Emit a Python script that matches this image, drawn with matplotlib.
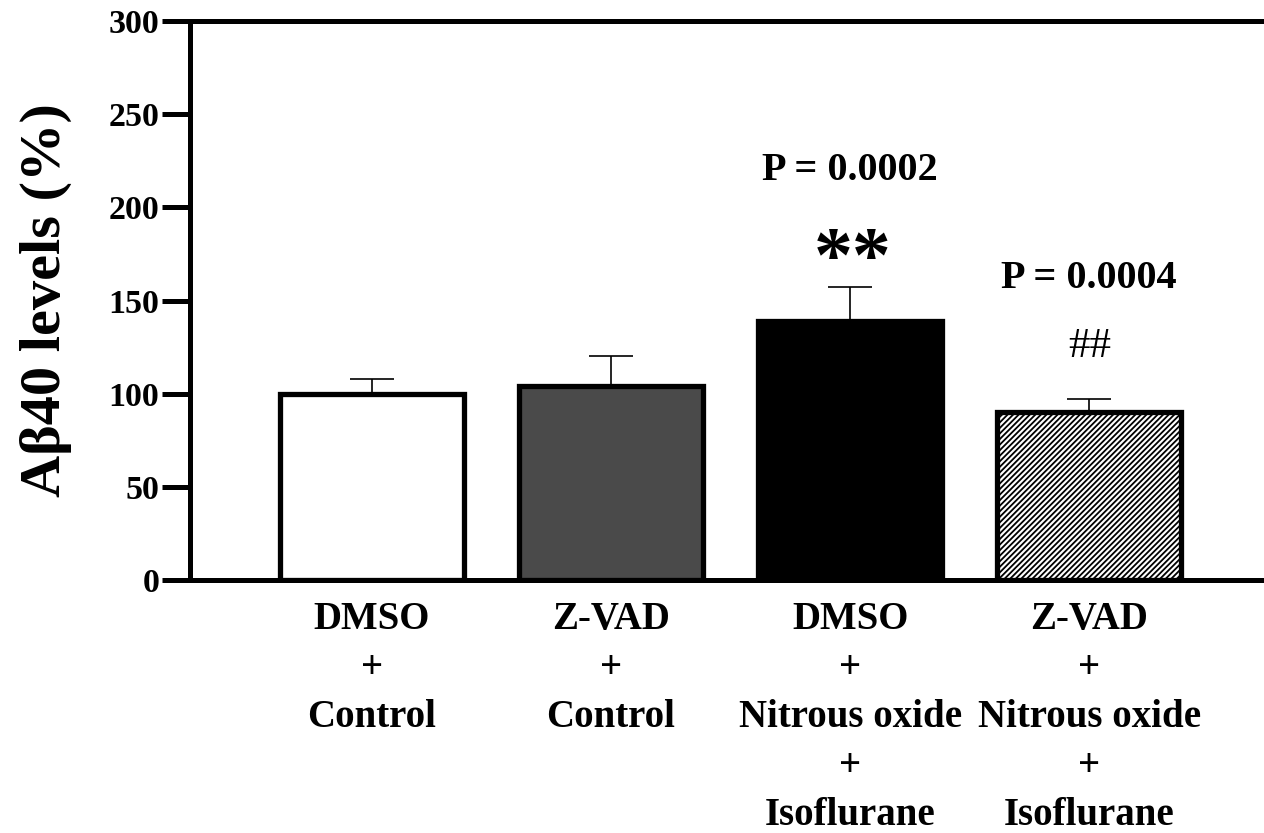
import numpy as np
import matplotlib
matplotlib.use("Agg")
import matplotlib.pyplot as plt

# Abeta40 levels per group
groups = ["DMSO\n+\nControl", "Z-VAD\n+\nControl",
          "DMSO\n+\nNitrous oxide\n+\nIsoflurane",
          "Z-VAD\n+\nNitrous oxide\n+\nIsoflurane"]
means = [100, 104, 139, 90]
errs = [8, 16, 18, 7]
colors = ["white", "#4a4a4a", "black", "white"]
hatches = [None, None, None, "//////"]
p_texts = ["", "", "P = 0.0002", "P = 0.0004"]
p_y = [0, 0, 220, 162]
marks = ["", "", "**", "##"]
mark_y = [0, 0, 171, 125]

plt.rcParams["font.family"] = ["Liberation Serif", "DejaVu Serif"]
plt.rcParams["font.weight"] = "bold"
plt.rcParams["hatch.linewidth"] = 1.3

fig = plt.figure(figsize=(12.64, 8.33), dpi=100)
ax = fig.add_axes([0.1503, 0.3037, 0.878, 0.6711])

x = np.arange(len(means))
ax.errorbar(x, means, yerr=[[0] * 4, errs], fmt="none", ecolor="black",
            elinewidth=1.2, capsize=16, capthick=1.2, zorder=1)
for xi, m, c, h in zip(x, means, colors, hatches):
    ax.bar(xi, m, width=0.77, color=c, edgecolor="black", linewidth=3.8,
           hatch=h, zorder=2)

ax.set_xlim(-0.76, 3.88)
ax.set_ylim(0, 300)
ax.set_yticks(np.arange(0, 301, 50))
ax.set_xticks(x)
ax.set_xticklabels(groups, fontsize=28, fontweight="bold", linespacing=1.43)
ax.tick_params(axis="y", length=20, width=3.6, labelsize=24.5, pad=2)
ax.tick_params(axis="x", length=0, pad=15)
for lab in ax.get_yticklabels():
    lab.set_fontweight("bold")

for s in ["left", "bottom", "top"]:
    ax.spines[s].set_linewidth(3.6)
ax.spines["right"].set_visible(False)

ax.set_ylabel("A\u03b240 levels (%)", fontsize=42, fontweight="bold", labelpad=26)

for xi, p, py, mk, my in zip(x, p_texts, p_y, marks, mark_y):
    if p:
        ax.text(xi, py, p, ha="center", va="center", fontsize=29,
                fontweight="bold")
    if mk == "**":
        ax.text(xi + 0.01, my, mk, ha="center", va="center",
                fontsize=56, fontweight="bold")
    elif mk:
        ax.text(xi, my, mk, ha="center", va="center", fontsize=31,
                fontweight="normal")

fig.savefig("out.png", dpi=100)
